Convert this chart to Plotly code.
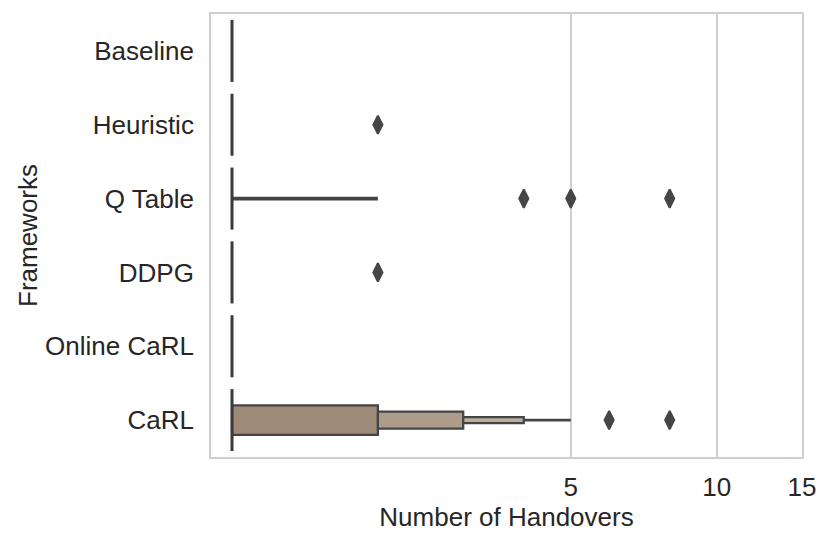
import math
import plotly.graph_objects as go

# ---------------- data ----------------
frameworks = ["Baseline", "Heuristic", "Q Table", "DDPG", "Online CaRL", "CaRL"]
medians = [1, 1, 1, 1, 1, 1]
whisker_high = [1, 1, 2, 1, 1, 5]
# letter-value boxes of the CaRL distribution (lower, upper)
carl_box_low = [1, 2, 3]
carl_box_high = [2, 3, 4]
outlier_framework = ["Heuristic", "Q Table", "Q Table", "Q Table", "DDPG", "CaRL", "CaRL"]
outlier_value = [2, 4, 5, 8, 2, 6, 8]
x_ticks = [5, 10, 15]

# ---------------- style ----------------
FONT = "Liberation Sans, Arial, sans-serif"
TEXT = "#262626"
EDGE = "#444444"
GRID = "#cfcfcf"
FS = 26
box_half = [0.2, 0.115, 0.04]
box_fill = ["#9d8a78", "#ae9c8b", "#bcae9f"]
median_half = 0.42

fig = go.Figure()
ypos = {f: i for i, f in enumerate(frameworks)}

# whiskers
for i, f in enumerate(frameworks):
    start = carl_box_high[-1] if f == "CaRL" else medians[i]
    if whisker_high[i] > start:
        fig.add_trace(go.Scatter(x=[start, whisker_high[i]], y=[i, i], mode="lines",
                                 line=dict(color=EDGE, width=3.6 if f != "CaRL" else 2.6),
                                 hoverinfo="skip", showlegend=False))

# CaRL boxes (largest first, smaller on top)
yc = ypos["CaRL"]
for k in range(len(carl_box_low)):
    lo, hi, h = carl_box_low[k], carl_box_high[k], box_half[k]
    fig.add_trace(go.Scatter(x=[lo, hi, hi, lo, lo], y=[yc - h, yc - h, yc + h, yc + h, yc - h],
                             mode="lines", fill="toself", fillcolor=box_fill[k],
                             line=dict(color=EDGE, width=2.2), hoverinfo="skip", showlegend=False))

# medians
for i, f in enumerate(frameworks):
    fig.add_trace(go.Scatter(x=[medians[i], medians[i]], y=[i - median_half, i + median_half],
                             mode="lines", line=dict(color="#3a3a3a", width=3),
                             hoverinfo="skip", showlegend=False))

# outliers
fig.add_trace(go.Scatter(x=outlier_value, y=[ypos[f] for f in outlier_framework], mode="markers",
                         marker=dict(symbol="diamond-tall", size=13, color="#464646",
                                     line=dict(color="#464646", width=2)),
                         hoverinfo="skip", showlegend=False))

fig.update_layout(
    width=831, height=546,
    margin=dict(l=211, r=29, t=14, b=89),
    paper_bgcolor="white", plot_bgcolor="white",
    font=dict(family=FONT, size=FS, color=TEXT),
    showlegend=False,
)
fig.update_xaxes(type="log", range=[math.log10(0.905), math.log10(15)],
                 tickvals=x_ticks, ticktext=[str(t) for t in x_ticks],
                 tickfont=dict(size=FS),
                 showgrid=True, gridcolor=GRID, gridwidth=1.5,
                 showline=True, linecolor=GRID, linewidth=1.8, mirror=True,
                 ticks="outside", ticklen=6, tickcolor="rgba(0,0,0,0)",
                 zeroline=False,
                 title=dict(text="Number of Handovers", standoff=3, font=dict(size=FS)))
fig.update_yaxes(range=[5.5, -0.5], tickvals=list(range(len(frameworks))), ticktext=frameworks,
                 tickfont=dict(size=FS),
                 showgrid=False, showline=True, linecolor=GRID, linewidth=1.8, mirror=True,
                 ticks="outside", ticklen=10, tickcolor="rgba(0,0,0,0)", zeroline=False,
                 title=dict(text="Frameworks", standoff=0, font=dict(size=FS)))

fig.write_html("out.html", config={"displayModeBar": False},
               post_script="document.body.style.margin='0';")
